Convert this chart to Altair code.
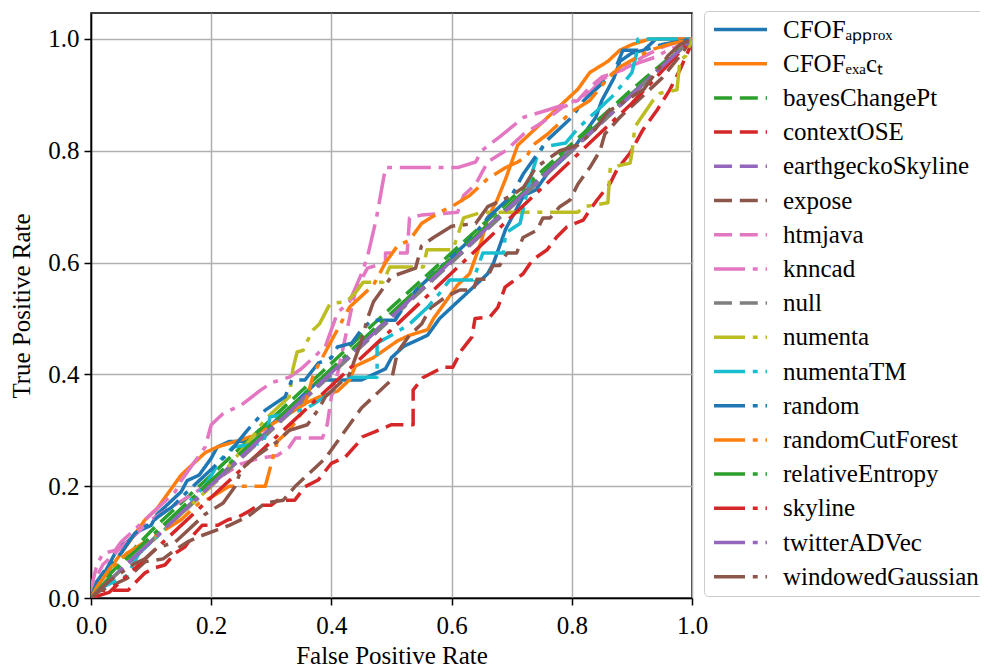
import altair as alt
import pandas as pd

series_names = [
    "CFOFₐₚₚᵣₒₓ", "CFOFₑₓₐcₜ", "bayesChangePt", "contextOSE", "earthgeckoSkyline",
    "expose", "htmjava", "knncad", "null", "numenta", "numentaTM", "random",
    "randomCutForest", "relativeEntropy", "skyline", "twitterADVec", "windowedGaussian",
]
series_colors = [
    "#1f77b4", "#ff7f0e", "#2ca02c", "#d62728", "#9467bd", "#8c564b", "#e377c2",
    "#e377c2", "#7f7f7f", "#bcbd22", "#17becf", "#1f77b4", "#ff7f0e", "#2ca02c",
    "#d62728", "#9467bd", "#8c564b",
]
series_styles = [
    "solid", "solid", "dashed", "dashed", "dashed", "dashed", "dashed", "dashdot",
    "dashed", "dashdot", "dashdot", "dashdot", "dashdot", "dashdot", "dashdot",
    "dashdot", "dashdot",
]

# (FPR, TPR) points of each ROC curve
cfof_approx = [(0, 0), (0.005, 0.02), (0.02, 0.04), (0.035, 0.07), (0.045, 0.09), (0.06, 0.1),
               (0.08, 0.12), (0.1, 0.13), (0.11, 0.15), (0.13, 0.17), (0.15, 0.19), (0.16, 0.21),
               (0.18, 0.22), (0.2, 0.25), (0.21, 0.27), (0.23, 0.28), (0.26, 0.28), (0.28, 0.3),
               (0.3, 0.31), (0.32, 0.33), (0.34, 0.35), (0.36, 0.37), (0.38, 0.39), (0.45, 0.39),
               (0.47, 0.4), (0.49, 0.41), (0.5, 0.43), (0.52, 0.45), (0.54, 0.46), (0.56, 0.47),
               (0.58, 0.5), (0.6, 0.52), (0.62, 0.54), (0.64, 0.56), (0.66, 0.58), (0.67, 0.6),
               (0.68, 0.63), (0.69, 0.66), (0.7, 0.68), (0.71, 0.7), (0.72, 0.72), (0.74, 0.73),
               (0.76, 0.76), (0.78, 0.78), (0.8, 0.8), (0.82, 0.83), (0.84, 0.86), (0.85, 0.89),
               (0.86, 0.91), (0.87, 0.93), (0.88, 0.96), (0.9, 0.975), (0.92, 0.98), (0.94, 1.0),
               (1, 1)]
cfof_exact = [(0, 0), (0.01, 0.02), (0.03, 0.05), (0.05, 0.08), (0.07, 0.11), (0.09, 0.14),
              (0.11, 0.16), (0.13, 0.19), (0.15, 0.22), (0.17, 0.24), (0.19, 0.26), (0.21, 0.27),
              (0.24, 0.28), (0.27, 0.29), (0.3, 0.31), (0.33, 0.33), (0.36, 0.35), (0.38, 0.36),
              (0.41, 0.37), (0.43, 0.39), (0.44, 0.415), (0.47, 0.43), (0.49, 0.445), (0.51, 0.46),
              (0.53, 0.47), (0.56, 0.48), (0.57, 0.5), (0.59, 0.53), (0.61, 0.56), (0.63, 0.58),
              (0.64, 0.61), (0.65, 0.64), (0.66, 0.68), (0.675, 0.71), (0.69, 0.75), (0.7, 0.78),
              (0.71, 0.81), (0.73, 0.83), (0.75, 0.85), (0.77, 0.87), (0.79, 0.89), (0.81, 0.91),
              (0.83, 0.94), (0.86, 0.96), (0.88, 0.98), (0.9, 0.99), (0.93, 1.0), (1, 1)]
bayes_change_pt = [(0, 0), (0.02, 0.03), (0.1, 0.12), (0.3, 0.32), (0.5, 0.52), (0.7, 0.715),
                   (0.9, 0.91), (1, 1)]
context_ose = [(0, 0), (0.01, 0.014), (0.023, 0.014), (0.062, 0.014), (0.073, 0.027), (0.09, 0.045),
               (0.106, 0.054), (0.123, 0.059), (0.14, 0.08), (0.156, 0.091), (0.173, 0.116),
               (0.185, 0.13), (0.211, 0.13), (0.228, 0.14), (0.245, 0.145), (0.261, 0.154),
               (0.278, 0.166), (0.3, 0.166), (0.311, 0.175), (0.339, 0.175), (0.356, 0.199),
               (0.378, 0.211), (0.4, 0.241), (0.423, 0.252), (0.444, 0.277), (0.451, 0.288),
               (0.478, 0.3), (0.5, 0.31), (0.527, 0.31), (0.536, 0.31), (0.536, 0.372),
               (0.552, 0.394), (0.586, 0.413), (0.602, 0.413), (0.617, 0.444), (0.634, 0.467),
               (0.639, 0.5), (0.664, 0.503), (0.677, 0.52), (0.689, 0.556), (0.719, 0.58),
               (0.735, 0.605), (0.759, 0.623), (0.775, 0.646), (0.792, 0.664), (0.819, 0.676),
               (0.83, 0.694), (0.842, 0.712), (0.864, 0.742), (0.875, 0.766), (0.897, 0.796),
               (0.918, 0.837), (0.942, 0.873), (0.963, 0.909), (0.98, 0.945), (0.997, 0.986),
               (1, 1)]
earthgecko_skyline = [(0, 0), (0.25, 0.255), (0.5, 0.505), (0.75, 0.755), (1, 1)]
expose = [(0, 0), (0.01, 0.01), (0.03, 0.02), (0.06, 0.035), (0.09, 0.065), (0.12, 0.07),
          (0.14, 0.086), (0.16, 0.1), (0.18, 0.11), (0.21, 0.122), (0.23, 0.13), (0.26, 0.145),
          (0.29, 0.17), (0.32, 0.175), (0.34, 0.2), (0.37, 0.23), (0.39, 0.25), (0.41, 0.28),
          (0.43, 0.31), (0.45, 0.34), (0.47, 0.36), (0.49, 0.38), (0.5, 0.39), (0.51, 0.44),
          (0.53, 0.47), (0.55, 0.49), (0.565, 0.519), (0.592, 0.54), (0.614, 0.551),
          (0.636, 0.551), (0.642, 0.57), (0.658, 0.57), (0.669, 0.595), (0.68, 0.595),
          (0.692, 0.617), (0.708, 0.617), (0.719, 0.645), (0.742, 0.658), (0.752, 0.68),
          (0.764, 0.68), (0.78, 0.7), (0.797, 0.712), (0.81, 0.74), (0.83, 0.77), (0.847, 0.8),
          (0.855, 0.83), (0.88, 0.86), (0.92, 0.9), (0.95, 0.93), (0.98, 0.97), (1, 1)]
htmjava = [(0, 0), (0.005, 0.03), (0.02, 0.06), (0.05, 0.09), (0.08, 0.12), (0.1, 0.14),
           (0.13, 0.16), (0.16, 0.18), (0.19, 0.2), (0.22, 0.22), (0.25, 0.24), (0.28, 0.25),
           (0.31, 0.255), (0.33, 0.27), (0.34, 0.286), (0.385, 0.286), (0.393, 0.31), (0.4, 0.36),
           (0.41, 0.4), (0.42, 0.45), (0.43, 0.5), (0.44, 0.55), (0.46, 0.59), (0.49, 0.6),
           (0.49, 0.617), (0.526, 0.617), (0.53, 0.68), (0.55, 0.685), (0.61, 0.69), (0.62, 0.72),
           (0.64, 0.74), (0.66, 0.78), (0.69, 0.8), (0.72, 0.83), (0.75, 0.85), (0.785, 0.878),
           (0.81, 0.89), (0.83, 0.914), (0.85, 0.932), (0.885, 0.945), (0.918, 0.968),
           (0.952, 0.986), (0.985, 0.998), (1, 1)]
knncad = [(0, 0), (0.003, 0.03), (0.01, 0.06), (0.02, 0.08), (0.04, 0.085), (0.05, 0.1),
          (0.07, 0.12), (0.09, 0.14), (0.1, 0.15), (0.12, 0.17), (0.14, 0.19), (0.15, 0.21),
          (0.17, 0.24), (0.19, 0.27), (0.2, 0.31), (0.22, 0.33), (0.25, 0.345), (0.28, 0.37),
          (0.3, 0.385), (0.33, 0.395), (0.35, 0.41), (0.37, 0.43), (0.39, 0.45), (0.4, 0.48),
          (0.41, 0.51), (0.43, 0.53), (0.45, 0.58), (0.46, 0.61), (0.475, 0.68), (0.49, 0.77),
          (0.61, 0.77), (0.64, 0.78), (0.65, 0.8), (0.68, 0.825), (0.72, 0.86), (0.76, 0.873),
          (0.8, 0.887), (0.83, 0.905), (0.85, 0.927), (0.88, 0.945), (0.91, 0.957), (0.94, 0.968),
          (0.96, 0.98), (0.99, 0.993), (1, 1)]
null = [(0, 0), (1, 1)]
numenta = [(0, 0), (0.01, 0.03), (0.03, 0.05), (0.06, 0.08), (0.1, 0.1), (0.12, 0.12),
           (0.15, 0.15), (0.18, 0.18), (0.2, 0.2), (0.24, 0.25), (0.27, 0.29), (0.29, 0.32),
           (0.31, 0.34), (0.33, 0.36), (0.336, 0.41), (0.343, 0.44), (0.353, 0.443), (0.36, 0.46),
           (0.37, 0.48), (0.38, 0.49), (0.398, 0.527), (0.425, 0.53), (0.44, 0.546),
           (0.453, 0.565), (0.486, 0.565), (0.497, 0.592), (0.553, 0.592), (0.559, 0.623),
           (0.602, 0.623), (0.62, 0.68), (0.65, 0.69), (0.76, 0.69), (0.81, 0.69), (0.82, 0.7),
           (0.86, 0.707), (0.864, 0.77), (0.897, 0.778), (0.9, 0.796), (0.905, 0.843),
           (0.935, 0.89), (0.947, 0.903), (0.975, 0.909), (0.98, 0.962), (0.99, 0.97), (1, 1)]
numenta_tm = [(0, 0), (0.02, 0.02), (0.04, 0.03), (0.06, 0.04), (0.08, 0.08), (0.1, 0.1),
              (0.13, 0.13), (0.16, 0.17), (0.19, 0.2), (0.215, 0.247), (0.236, 0.27),
              (0.286, 0.277), (0.293, 0.3), (0.298, 0.324), (0.33, 0.33), (0.36, 0.34),
              (0.381, 0.354), (0.409, 0.377), (0.414, 0.395), (0.476, 0.395), (0.476, 0.456),
              (0.5, 0.47), (0.53, 0.49), (0.56, 0.52), (0.58, 0.545), (0.597, 0.569),
              (0.636, 0.569), (0.652, 0.617), (0.686, 0.617), (0.69, 0.653), (0.714, 0.67),
              (0.72, 0.7), (0.73, 0.748), (0.742, 0.789), (0.752, 0.807), (0.79, 0.814),
              (0.81, 0.84), (0.84, 0.87), (0.87, 0.9), (0.9, 0.94), (0.908, 0.975), (0.91, 1.0),
              (1, 1)]
random_ = [(0, 0), (0.01, 0.03), (0.03, 0.06), (0.05, 0.08), (0.073, 0.116), (0.1, 0.134),
           (0.111, 0.145), (0.135, 0.163), (0.16, 0.19), (0.18, 0.21), (0.2, 0.23), (0.23, 0.26),
           (0.26, 0.3), (0.29, 0.336), (0.323, 0.36), (0.334, 0.39), (0.356, 0.39), (0.378, 0.42),
           (0.4, 0.43), (0.41, 0.449), (0.434, 0.456), (0.45, 0.48), (0.467, 0.497),
           (0.506, 0.497), (0.52, 0.52), (0.54, 0.55), (0.56, 0.57), (0.58, 0.59), (0.6, 0.61),
           (0.63, 0.64), (0.66, 0.68), (0.7, 0.72), (0.72, 0.76), (0.74, 0.79), (0.76, 0.82),
           (0.78, 0.84), (0.8, 0.86), (0.82, 0.89), (0.85, 0.92), (0.87, 0.94), (0.885, 0.98),
           (0.92, 0.98), (0.95, 0.99), (1, 1)]
random_cut_forest = [(0, 0), (0.01, 0.02), (0.03, 0.05), (0.06, 0.08), (0.09, 0.1), (0.12, 0.12),
                     (0.15, 0.14), (0.18, 0.17), (0.2, 0.18), (0.23, 0.2), (0.29, 0.2), (0.3, 0.24),
                     (0.31, 0.28), (0.33, 0.3), (0.35, 0.33), (0.36, 0.36), (0.37, 0.4), (0.39, 0.44),
                     (0.41, 0.48), (0.43, 0.52), (0.45, 0.54), (0.47, 0.56), (0.49, 0.6),
                     (0.51, 0.63), (0.53, 0.64), (0.55, 0.67), (0.58, 0.69), (0.6, 0.7), (0.63, 0.72),
                     (0.66, 0.75), (0.69, 0.77), (0.71, 0.78), (0.725, 0.79), (0.735, 0.81),
                     (0.76, 0.83), (0.78, 0.85), (0.8, 0.87), (0.83, 0.89), (0.86, 0.93),
                     (0.88, 0.95), (0.93, 0.98), (0.96, 0.99), (1, 1)]
relative_entropy = [(0, 0), (0.05, 0.06), (0.3, 0.31), (0.5, 0.51), (0.8, 0.805), (1, 1)]
skyline = [(0, 0), (0.03, 0.01), (0.1, 0.08), (0.5, 0.48), (0.9, 0.885), (1, 1)]
twitter_ad_vec = [(0, 0), (0.3, 0.303), (0.7, 0.703), (1, 1)]
windowed_gaussian = [(0, 0), (0.01, 0.01), (0.03, 0.03), (0.05, 0.045), (0.07, 0.06), (0.09, 0.07),
                     (0.11, 0.09), (0.14, 0.1), (0.16, 0.12), (0.19, 0.15), (0.22, 0.17),
                     (0.24, 0.2), (0.25, 0.23), (0.27, 0.25), (0.29, 0.265), (0.31, 0.28),
                     (0.33, 0.3), (0.36, 0.31), (0.38, 0.34), (0.39, 0.36), (0.41, 0.38),
                     (0.43, 0.4), (0.44, 0.43), (0.45, 0.46), (0.46, 0.5), (0.47, 0.53),
                     (0.49, 0.56), (0.5, 0.575), (0.54, 0.59), (0.55, 0.63), (0.57, 0.645),
                     (0.6, 0.665), (0.64, 0.67), (0.66, 0.7), (0.7, 0.72), (0.72, 0.735),
                     (0.74, 0.77), (0.76, 0.785), (0.78, 0.8), (0.81, 0.81), (0.84, 0.84),
                     (0.86, 0.87), (0.89, 0.89), (0.92, 0.91), (0.94, 0.94), (0.96, 0.97),
                     (0.98, 0.99), (1, 1)]

series_points = [
    cfof_approx, cfof_exact, bayes_change_pt, context_ose, earthgecko_skyline, expose,
    htmjava, knncad, null, numenta, numenta_tm, random_, random_cut_forest,
    relative_entropy, skyline, twitter_ad_vec, windowed_gaussian,
]

tick_values = [0.0, 0.2, 0.4, 0.6, 0.8, 1.0]

dash_patterns = {"solid": [1, 0], "dashed": [18, 7.8], "dashdot": [31, 7.8, 4.9, 7.8]}

rows = []
for name, pts in zip(series_names, series_points):
    for k, (f, t) in enumerate(pts):
        rows.append({"series": name, "fpr": f, "tpr": t, "step": k})
df = pd.DataFrame(rows)

FONT = "Liberation Serif"
FS = 25

legend = alt.Legend(
    title=None,
    orient="none",
    legendX=613,
    legendY=-2,
    padding=6,
    strokeColor="#cccccc",
    fillColor="white",
    cornerRadius=4,
    labelFont=FONT,
    labelFontSize=FS,
    labelColor="black",
    labelLimit=400,
    symbolType="M -2.65 0 L 2.65 0",
    symbolSize=400,
    symbolStrokeWidth=3.5,
    symbolOffset=18,
    labelOffset=30,
    rowPadding=8.2,
)

chart = (
    alt.Chart(df)
    .mark_line(strokeWidth=3.5, strokeCap="butt", strokeJoin="round", clip=True)
    .encode(
        x=alt.X(
            "fpr:Q",
            scale=alt.Scale(domain=[0, 1], nice=False, zero=False),
            axis=alt.Axis(values=tick_values, format=".1f", title="False Positive Rate",
                          labelFlush=False, labelPadding=8, titlePadding=5),
        ),
        y=alt.Y(
            "tpr:Q",
            scale=alt.Scale(domain=[0, 1.0465], nice=False, zero=False),
            axis=alt.Axis(values=tick_values, format=".1f", title="True Positive Rate",
                          labelFlush=False, labelPadding=5, titlePadding=13),
        ),
        color=alt.Color("series:N", scale=alt.Scale(domain=series_names, range=series_colors),
                        legend=legend),
        strokeDash=alt.StrokeDash(
            "series:N",
            scale=alt.Scale(domain=series_names, range=[dash_patterns[s] for s in series_styles]),
            legend=legend,
        ),
        order=alt.Order("step:Q"),
    )
    .properties(
        width=601,
        height=585,
        autosize=alt.AutoSizeParams(type="none"),
        padding={"left": 83, "top": 5, "right": 288, "bottom": 72},
    )
    .configure_axis(
        labelFont=FONT,
        labelFontSize=FS,
        labelColor="black",
        titleFont=FONT,
        titleFontSize=FS,
        titleFontWeight="normal",
        titleColor="black",
        domainColor="black",
        domainWidth=1.5,
        tickColor="black",
        tickWidth=1.5,
        tickSize=7,
        gridColor="#b0b0b0",
        gridWidth=1.5,
    )
    .configure_view(stroke="black", strokeWidth=1.5)
)

chart.save("out.html", embed_options={"renderer": "svg", "actions": False})
